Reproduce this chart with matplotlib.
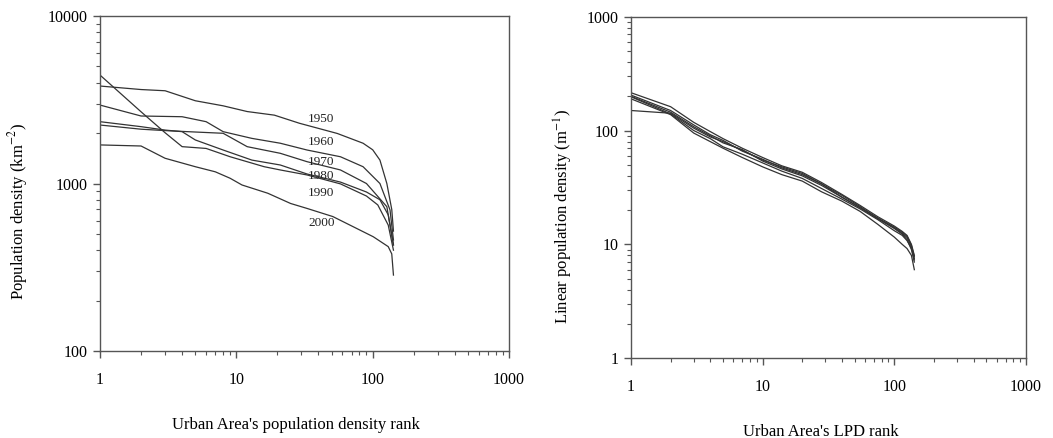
import numpy as np
import matplotlib
matplotlib.use("Agg")
import matplotlib.pyplot as plt
from matplotlib.ticker import LogLocator, FuncFormatter, NullFormatter

plt.rcParams['font.family'] = ['Liberation Serif', 'DejaVu Serif']
plt.rcParams['mathtext.fontset'] = 'stix'

# left panel: population density by rank, one curve per census year
years = ['1950', '1960', '1970', '1980', '1990', '2000']

rank_1950 = [1, 2, 3, 5, 8, 12, 19, 29, 55, 85, 100, 113, 127, 138, 142]
dens_1950 = [3820, 3640, 3580, 3120, 2910, 2690, 2560, 2290, 1990, 1740, 1590, 1380, 1000, 700, 520]

rank_1960 = [1, 2, 4, 6, 8, 13, 21, 33, 58, 85, 113, 134, 142]
dens_1960 = [2940, 2530, 2505, 2340, 2040, 1860, 1740, 1585, 1445, 1260, 1000, 695, 460]

rank_1970 = [1, 2, 3, 5, 8, 12, 21, 33, 58, 90, 127, 142]
dens_1970 = [2235, 2110, 2070, 2030, 1995, 1660, 1515, 1350, 1205, 1000, 727, 430]

rank_1980 = [1, 2, 3, 4, 5, 8, 13, 21, 33, 58, 90, 113, 130, 142]
dens_1980 = [2340, 2185, 2085, 2040, 1820, 1585, 1380, 1290, 1140, 1020, 890, 800, 650, 430]

rank_1990 = [1, 2, 3, 4, 6, 9, 16, 21, 33, 58, 90, 109, 130, 142]
dens_1990 = [4440, 2680, 2010, 1660, 1620, 1445, 1260, 1205, 1125, 995, 842, 745, 565, 400]

rank_2000 = [1, 2, 3, 5, 7, 9, 11, 17, 25, 33, 51, 72, 101, 130, 138, 142]
dens_2000 = [1700, 1675, 1415, 1260, 1175, 1075, 980, 875, 760, 710, 635, 552, 481, 420, 380, 284]

pd_ranks = [rank_1950, rank_1960, rank_1970, rank_1980, rank_1990, rank_2000]
pd_vals = [dens_1950, dens_1960, dens_1970, dens_1980, dens_1990, dens_2000]

# where the year labels sit (rank, density)
label_rank = [42, 42, 42, 42, 42, 42]
label_dens = [2427, 1777, 1349, 1109, 881, 583]

# right panel: linear population density by rank
lpd_rank = [1, 2, 3, 4, 5, 7, 10, 14, 20, 28, 40, 55, 75, 100, 115, 125, 135, 142]
lpd_a = [215, 162, 118, 98, 85, 70, 58, 49, 43, 35, 27.5, 22, 17.5, 14.5, 13.0, 12.0, 10.0, 8.0]
lpd_b = [205, 150, 112, 92, 82, 66, 56, 47, 41, 34, 27.0, 21.5, 17.0, 14.0, 12.5, 11.5, 9.5, 7.5]
lpd_c = [200, 145, 108, 90, 78, 68, 54, 46, 40, 33, 26.0, 21.0, 16.8, 13.8, 12.3, 11.0, 9.0, 7.0]
lpd_d = [198, 140, 100, 85, 72, 62, 52, 44, 38, 31, 25.0, 20.5, 16.5, 13.2, 12.0, 10.8, 9.3, 7.3]
lpd_e = [190, 138, 95, 80, 70, 58, 48, 41, 36, 29, 24.0, 19.5, 15.0, 11.6, 10.0, 9.2, 8.0, 6.0]
lpd_f = [150, 142, 105, 88, 80, 67, 55, 48, 42, 34, 26.0, 21.0, 17.0, 14.2, 12.8, 11.8, 9.8, 7.8]
lpd_series = [lpd_a, lpd_b, lpd_c, lpd_d, lpd_e, lpd_f]

line_col = '#333333'
spine_col = '#555555'

fig = plt.figure(figsize=(10.53, 4.38), dpi=100)
ax1 = fig.add_axes([0.0950, 0.1986, 0.3884, 0.7648])
ax2 = fig.add_axes([0.5992, 0.1820, 0.3751, 0.7799])


def style_axis(ax, ymin, ymax):
    ax.set_xscale('log')
    ax.set_yscale('log')
    ax.set_xlim(1, 1000)
    ax.set_ylim(ymin, ymax)
    fmt = FuncFormatter(lambda v, p: '%d' % round(v))
    ax.xaxis.set_major_formatter(fmt)
    ax.yaxis.set_major_formatter(fmt)
    ax.xaxis.set_major_locator(LogLocator(base=10, numticks=10))
    ax.yaxis.set_major_locator(LogLocator(base=10, numticks=10))
    ax.xaxis.set_minor_locator(LogLocator(base=10, subs=np.arange(2, 10), numticks=20))
    ax.yaxis.set_minor_locator(LogLocator(base=10, subs=np.arange(2, 10), numticks=20))
    ax.xaxis.set_minor_formatter(NullFormatter())
    ax.yaxis.set_minor_formatter(NullFormatter())
    ax.tick_params(which='both', direction='out', top=False, right=False,
                   color=spine_col, labelsize=11.5)
    ax.tick_params(which='major', length=5, width=1)
    ax.tick_params(which='minor', length=3, width=0.8)
    ax.tick_params(axis='x', which='major', pad=10)
    ax.tick_params(axis='y', which='major', pad=4)
    for s in ax.spines.values():
        s.set_color(spine_col)
        s.set_linewidth(1.0)


style_axis(ax1, 100, 10000)
for r, v in zip(pd_ranks, pd_vals):
    ax1.plot(r, v, color=line_col, lw=0.9)
for yr, lr, ld in zip(years, label_rank, label_dens):
    ax1.text(lr, ld, yr, fontsize=9.5, ha='center', va='center', color='#222222')
ax1.set_xlabel("Urban Area's population density rank", fontsize=12)
ax1.set_ylabel('Population density (km$^{-2}$)', fontsize=12)
ax1.xaxis.set_label_coords(0.479, -0.197)
ax1.yaxis.set_label_coords(-0.172, 0.415)

style_axis(ax2, 1, 1000)
for s in lpd_series:
    ax2.plot(lpd_rank, s, color=line_col, lw=0.9)
ax2.set_xlabel("Urban Area's LPD rank", fontsize=12)
ax2.set_ylabel('Linear population density (m$^{-1}$)', fontsize=12)
ax2.xaxis.set_label_coords(0.48, -0.191)
ax2.yaxis.set_label_coords(-0.1405, 0.415)

fig.savefig('out.png', dpi=100)
